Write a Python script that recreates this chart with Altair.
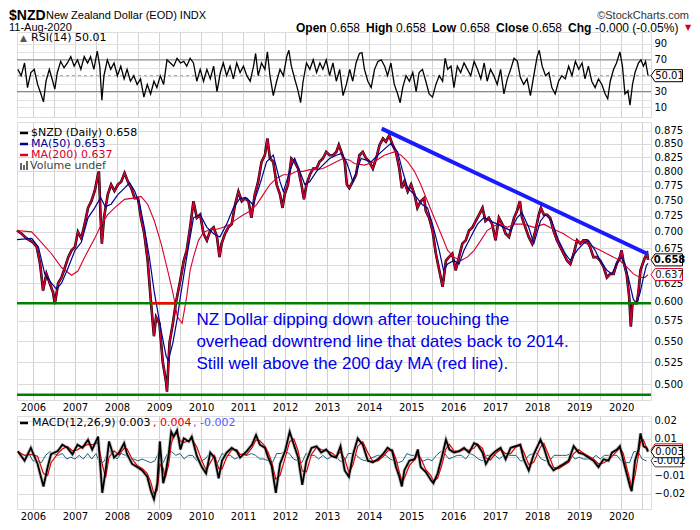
import altair as alt
import pandas as pd

FONT = "DejaVu Sans"
HFONT = "Liberation Sans"

# ---------------- data (decimal year, value) ----------------
price_points = [
    (2005.62, 0.702), (2005.73, 0.697), (2005.85, 0.690), (2006.00, 0.684), (2006.09, 0.677),
    (2006.17, 0.652), (2006.24, 0.615), (2006.32, 0.638), (2006.40, 0.625), (2006.48, 0.612),
    (2006.52, 0.597), (2006.60, 0.625), (2006.68, 0.633), (2006.76, 0.647), (2006.84, 0.662),
    (2006.92, 0.672), (2007.00, 0.677), (2007.07, 0.700), (2007.15, 0.690), (2007.23, 0.712),
    (2007.31, 0.738), (2007.39, 0.749), (2007.47, 0.766), (2007.55, 0.795), (2007.57, 0.800),
    (2007.61, 0.722), (2007.64, 0.682), (2007.69, 0.722), (2007.78, 0.760), (2007.86, 0.777),
    (2007.94, 0.766), (2008.02, 0.777), (2008.10, 0.782), (2008.18, 0.797), (2008.26, 0.782),
    (2008.34, 0.771), (2008.42, 0.754), (2008.50, 0.754), (2008.57, 0.722), (2008.65, 0.697),
    (2008.73, 0.657), (2008.81, 0.598), (2008.88, 0.556), (2008.93, 0.580), (2009.01, 0.572),
    (2009.09, 0.525), (2009.17, 0.502), (2009.19, 0.492), (2009.25, 0.548), (2009.33, 0.572),
    (2009.40, 0.598), (2009.51, 0.630), (2009.59, 0.657), (2009.66, 0.672), (2009.74, 0.707),
    (2009.82, 0.749), (2009.90, 0.722), (2009.98, 0.727), (2010.06, 0.697), (2010.14, 0.687),
    (2010.22, 0.702), (2010.30, 0.707), (2010.38, 0.692), (2010.44, 0.662), (2010.49, 0.682),
    (2010.57, 0.697), (2010.65, 0.707), (2010.73, 0.712), (2010.81, 0.743), (2010.89, 0.765),
    (2010.97, 0.749), (2011.05, 0.754), (2011.13, 0.749), (2011.20, 0.722), (2011.28, 0.760),
    (2011.36, 0.782), (2011.44, 0.817), (2011.52, 0.829), (2011.58, 0.860), (2011.64, 0.823),
    (2011.72, 0.817), (2011.80, 0.777), (2011.88, 0.760), (2011.94, 0.738), (2011.99, 0.760),
    (2012.07, 0.777), (2012.15, 0.823), (2012.23, 0.817), (2012.31, 0.805), (2012.39, 0.777),
    (2012.45, 0.752), (2012.51, 0.777), (2012.59, 0.794), (2012.67, 0.805), (2012.75, 0.805),
    (2012.82, 0.817), (2012.90, 0.823), (2012.98, 0.835), (2013.06, 0.829), (2013.14, 0.829),
    (2013.22, 0.835), (2013.28, 0.848), (2013.34, 0.835), (2013.42, 0.817), (2013.47, 0.777),
    (2013.53, 0.771), (2013.61, 0.782), (2013.69, 0.794), (2013.77, 0.829), (2013.85, 0.835),
    (2013.93, 0.823), (2014.01, 0.817), (2014.09, 0.805), (2014.17, 0.823), (2014.25, 0.848),
    (2014.33, 0.860), (2014.40, 0.854), (2014.48, 0.866), (2014.56, 0.848), (2014.64, 0.835),
    (2014.72, 0.805), (2014.78, 0.771), (2014.84, 0.782), (2014.92, 0.765), (2015.00, 0.777),
    (2015.08, 0.760), (2015.15, 0.738), (2015.23, 0.749), (2015.31, 0.754), (2015.35, 0.733),
    (2015.43, 0.722), (2015.51, 0.702), (2015.59, 0.667), (2015.67, 0.643), (2015.75, 0.620),
    (2015.83, 0.657), (2015.90, 0.662), (2015.98, 0.667), (2016.06, 0.643), (2016.14, 0.662),
    (2016.22, 0.682), (2016.30, 0.687), (2016.38, 0.702), (2016.46, 0.707), (2016.54, 0.717),
    (2016.62, 0.727), (2016.70, 0.738), (2016.77, 0.717), (2016.85, 0.722), (2016.93, 0.712),
    (2017.01, 0.687), (2017.09, 0.722), (2017.17, 0.712), (2017.25, 0.697), (2017.33, 0.692),
    (2017.45, 0.722), (2017.52, 0.733), (2017.59, 0.749), (2017.64, 0.722), (2017.72, 0.707),
    (2017.80, 0.692), (2017.88, 0.682), (2017.96, 0.702), (2018.04, 0.727), (2018.09, 0.738),
    (2018.16, 0.727), (2018.24, 0.727), (2018.31, 0.722), (2018.39, 0.702), (2018.47, 0.687),
    (2018.55, 0.677), (2018.63, 0.667), (2018.71, 0.657), (2018.79, 0.652), (2018.87, 0.667),
    (2018.95, 0.687), (2019.03, 0.682), (2019.10, 0.687), (2019.18, 0.687), (2019.26, 0.677),
    (2019.34, 0.662), (2019.42, 0.662), (2019.50, 0.657), (2019.58, 0.648), (2019.66, 0.633),
    (2019.74, 0.638), (2019.82, 0.638), (2019.89, 0.652), (2019.97, 0.662), (2020.01, 0.672),
    (2020.05, 0.657), (2020.13, 0.638), (2020.19, 0.607), (2020.23, 0.568), (2020.27, 0.598),
    (2020.33, 0.598), (2020.37, 0.598), (2020.41, 0.612), (2020.46, 0.643), (2020.51, 0.652),
    (2020.57, 0.662), (2020.62, 0.667), (2020.64, 0.658),
]

ma50_points = [
    (2005.62, 0.688), (2005.97, 0.690), (2006.13, 0.677), (2006.28, 0.638), (2006.44, 0.625),
    (2006.56, 0.617), (2006.68, 0.625), (2006.84, 0.647), (2007.00, 0.672), (2007.15, 0.684),
    (2007.31, 0.722), (2007.47, 0.738), (2007.61, 0.755), (2007.72, 0.740), (2007.86, 0.744),
    (2008.02, 0.760), (2008.18, 0.771), (2008.30, 0.780), (2008.42, 0.766), (2008.54, 0.744),
    (2008.65, 0.707), (2008.77, 0.662), (2008.89, 0.612), (2009.05, 0.563), (2009.17, 0.532),
    (2009.22, 0.527), (2009.33, 0.548), (2009.44, 0.580), (2009.51, 0.607), (2009.66, 0.662),
    (2009.82, 0.722), (2009.98, 0.727), (2010.14, 0.707), (2010.30, 0.697), (2010.45, 0.692),
    (2010.61, 0.712), (2010.77, 0.738), (2010.93, 0.754), (2011.09, 0.754), (2011.24, 0.743),
    (2011.40, 0.777), (2011.56, 0.817), (2011.72, 0.829), (2011.88, 0.782), (2011.96, 0.765),
    (2012.11, 0.800), (2012.23, 0.823), (2012.35, 0.800), (2012.47, 0.777), (2012.59, 0.782),
    (2012.75, 0.800), (2012.90, 0.811), (2013.06, 0.823), (2013.22, 0.829), (2013.34, 0.832),
    (2013.46, 0.817), (2013.54, 0.800), (2013.61, 0.782), (2013.81, 0.823), (2014.05, 0.817),
    (2014.29, 0.835), (2014.52, 0.851), (2014.68, 0.835), (2014.80, 0.800), (2014.92, 0.771),
    (2015.08, 0.760), (2015.27, 0.743), (2015.39, 0.738), (2015.51, 0.712), (2015.67, 0.672),
    (2015.77, 0.643), (2015.87, 0.652), (2016.02, 0.657), (2016.14, 0.652), (2016.26, 0.672),
    (2016.42, 0.692), (2016.58, 0.712), (2016.73, 0.722), (2016.89, 0.717), (2017.05, 0.712),
    (2017.21, 0.707), (2017.37, 0.702), (2017.52, 0.722), (2017.64, 0.730), (2017.80, 0.707),
    (2017.92, 0.682), (2018.08, 0.717), (2018.20, 0.727), (2018.35, 0.717), (2018.51, 0.687),
    (2018.67, 0.667), (2018.79, 0.657), (2018.95, 0.672), (2019.10, 0.682), (2019.22, 0.687),
    (2019.38, 0.672), (2019.50, 0.657), (2019.66, 0.643), (2019.78, 0.638), (2019.89, 0.652),
    (2020.01, 0.662), (2020.09, 0.652), (2020.17, 0.633), (2020.29, 0.603), (2020.37, 0.598),
    (2020.45, 0.612), (2020.53, 0.633), (2020.60, 0.650), (2020.64, 0.653),
]

ma200_points = [
    (2005.62, 0.702), (2005.97, 0.700), (2006.20, 0.684), (2006.44, 0.667), (2006.68, 0.647),
    (2006.92, 0.636), (2007.07, 0.642), (2007.23, 0.662), (2007.47, 0.690), (2007.63, 0.712),
    (2007.78, 0.727), (2007.94, 0.738), (2008.18, 0.752), (2008.38, 0.754), (2008.57, 0.757),
    (2008.73, 0.744), (2008.89, 0.717), (2009.05, 0.682), (2009.21, 0.642), (2009.33, 0.612),
    (2009.44, 0.580), (2009.55, 0.572), (2009.66, 0.607), (2009.74, 0.643), (2009.82, 0.662),
    (2009.94, 0.687), (2010.06, 0.699), (2010.22, 0.704), (2010.38, 0.704), (2010.53, 0.707),
    (2010.69, 0.712), (2010.85, 0.720), (2011.01, 0.727), (2011.17, 0.733), (2011.32, 0.743),
    (2011.48, 0.760), (2011.64, 0.777), (2011.80, 0.788), (2011.96, 0.794), (2012.11, 0.794),
    (2012.27, 0.800), (2012.43, 0.800), (2012.59, 0.803), (2012.75, 0.803), (2012.90, 0.805),
    (2013.06, 0.811), (2013.22, 0.817), (2013.38, 0.823), (2013.54, 0.820), (2013.65, 0.814),
    (2013.89, 0.811), (2014.13, 0.817), (2014.36, 0.829), (2014.60, 0.835), (2014.76, 0.829),
    (2014.92, 0.817), (2015.08, 0.800), (2015.23, 0.777), (2015.39, 0.749), (2015.55, 0.722),
    (2015.71, 0.697), (2015.87, 0.672), (2016.02, 0.662), (2016.18, 0.657), (2016.34, 0.662),
    (2016.50, 0.672), (2016.66, 0.687), (2016.81, 0.702), (2016.97, 0.709), (2017.13, 0.712),
    (2017.29, 0.707), (2017.45, 0.712), (2017.68, 0.712), (2017.92, 0.707), (2018.16, 0.712),
    (2018.39, 0.704), (2018.63, 0.697), (2018.87, 0.687), (2019.10, 0.684), (2019.34, 0.677),
    (2019.50, 0.672), (2019.66, 0.667), (2019.82, 0.662), (2019.97, 0.657), (2020.13, 0.648),
    (2020.29, 0.638), (2020.45, 0.633), (2020.57, 0.633), (2020.64, 0.637),
]

rsi_points = [
    (2005.64, 58), (2005.72, 50), (2005.80, 66), (2005.87, 35), (2005.95, 54), (2006.03, 58),
    (2006.11, 39), (2006.19, 27), (2006.25, 17), (2006.31, 43), (2006.39, 58), (2006.47, 43),
    (2006.52, 33), (2006.58, 54), (2006.66, 68), (2006.74, 60), (2006.82, 66), (2006.90, 74),
    (2006.98, 62), (2007.06, 70), (2007.14, 58), (2007.22, 74), (2007.30, 66), (2007.37, 74),
    (2007.45, 58), (2007.53, 81), (2007.59, 62), (2007.64, 19), (2007.69, 50), (2007.77, 70),
    (2007.85, 58), (2007.93, 66), (2008.01, 50), (2008.09, 62), (2008.17, 46), (2008.24, 58),
    (2008.32, 43), (2008.40, 50), (2008.48, 39), (2008.56, 46), (2008.64, 23), (2008.72, 39),
    (2008.80, 27), (2008.88, 43), (2008.95, 35), (2009.03, 50), (2009.11, 39), (2009.19, 70),
    (2009.27, 66), (2009.35, 62), (2009.43, 72), (2009.51, 66), (2009.59, 68), (2009.66, 62),
    (2009.74, 72), (2009.82, 66), (2009.90, 43), (2009.98, 58), (2010.06, 43), (2010.14, 58),
    (2010.22, 46), (2010.30, 62), (2010.38, 30), (2010.46, 54), (2010.53, 66), (2010.61, 50),
    (2010.69, 62), (2010.77, 46), (2010.85, 66), (2010.93, 54), (2011.01, 62), (2011.09, 50),
    (2011.17, 43), (2011.25, 62), (2011.30, 78), (2011.36, 50), (2011.44, 66), (2011.52, 58),
    (2011.58, 80), (2011.64, 50), (2011.72, 25), (2011.80, 43), (2011.88, 58), (2011.96, 50),
    (2012.04, 74), (2012.09, 82), (2012.15, 62), (2012.23, 46), (2012.31, 31), (2012.37, 16),
    (2012.43, 43), (2012.51, 66), (2012.59, 58), (2012.67, 70), (2012.75, 54), (2012.83, 66),
    (2012.90, 58), (2012.98, 70), (2013.06, 50), (2013.14, 66), (2013.22, 43), (2013.30, 58),
    (2013.38, 25), (2013.46, 39),
    (2013.54, 58), (2013.61, 43), (2013.69, 66), (2013.77, 78), (2013.83, 79), (2013.89, 58),
    (2013.97, 43), (2014.05, 35), (2014.13, 58), (2014.21, 68), (2014.29, 70), (2014.37, 62),
    (2014.44, 50), (2014.52, 66), (2014.60, 39), (2014.68, 27), (2014.74, 16), (2014.80, 35),
    (2014.88, 50), (2014.96, 43), (2015.04, 54), (2015.12, 30), (2015.19, 54), (2015.27, 58),
    (2015.35, 43), (2015.43, 27), (2015.51, 23), (2015.59, 39), (2015.67, 50), (2015.75, 43),
    (2015.81, 72), (2015.87, 58), (2015.95, 62), (2016.02, 35), (2016.10, 62), (2016.18, 54),
    (2016.26, 66), (2016.34, 58), (2016.42, 50), (2016.50, 68), (2016.58, 58), (2016.66, 46),
    (2016.74, 66), (2016.81, 43), (2016.89, 58), (2016.97, 50), (2017.05, 39), (2017.13, 58),
    (2017.21, 27), (2017.29, 46), (2017.37, 58), (2017.45, 72), (2017.53, 68), (2017.60, 48),
    (2017.68, 39), (2017.76, 46), (2017.84, 25), (2017.92, 50), (2018.00, 74), (2018.05, 82),
    (2018.12, 62), (2018.20, 50), (2018.28, 54), (2018.35, 35), (2018.43, 27), (2018.51, 43),
    (2018.59, 50), (2018.67, 46), (2018.75, 62), (2018.83, 50), (2018.91, 68), (2018.99, 58),
    (2019.07, 66), (2019.14, 46), (2019.22, 62), (2019.30, 43), (2019.38, 35), (2019.46, 46),
    (2019.54, 39), (2019.62, 27), (2019.68, 21), (2019.74, 43), (2019.82, 58), (2019.89, 66),
    (2019.97, 80), (2020.03, 62), (2020.09, 27), (2020.16, 31), (2020.21, 13), (2020.27, 39),
    (2020.33, 54), (2020.41, 66), (2020.47, 70), (2020.53, 62), (2020.58, 68), (2020.64, 50),
]

# (year, MACD, signal)
macd_points = [
    (2005.64, 0.0033, 0.0030), (2005.80, -0.0019, 0.0010), (2005.95, 0.0051, 0.0015),
    (2006.11, -0.0037, 0.0005), (2006.25, -0.0160, -0.0090), (2006.35, -0.0054, -0.0100),
    (2006.43, 0.0016, -0.0030), (2006.59, 0.0033, 0.0020), (2006.70, 0.0068, 0.0045),
    (2006.82, 0.0051, 0.0058), (2006.94, 0.0016, 0.0035), (2007.06, 0.0068, 0.0040),
    (2007.18, 0.0051, 0.0058), (2007.31, 0.0095, 0.0070), (2007.41, 0.0042, 0.0068),
    (2007.55, 0.0112, 0.0080), (2007.65, -0.0195, -0.0040), (2007.73, -0.0072, -0.0110),
    (2007.81, 0.0086, 0.0000), (2007.93, -0.0002, 0.0035), (2008.05, 0.0025, 0.0012),
    (2008.17, 0.0077, 0.0050), (2008.24, 0.0016, 0.0045), (2008.36, -0.0037, -0.0010),
    (2008.48, -0.0054, -0.0045), (2008.60, -0.0072, -0.0062), (2008.72, -0.0107, -0.0088),
    (2008.81, -0.0186, -0.0140), (2008.88, -0.0230, -0.0200), (2008.96, -0.0142, -0.0180),
    (2009.02, 0.0086, -0.0040), (2009.10, -0.0142, -0.0060), (2009.15, -0.0098, -0.0110),
    (2009.23, 0.0016, -0.0040), (2009.29, 0.0139, 0.0070), (2009.35, 0.0112, 0.0120),
    (2009.43, 0.0147, 0.0130), (2009.51, 0.0042, 0.0090), (2009.59, 0.0103, 0.0080),
    (2009.71, 0.0086, 0.0090), (2009.78, 0.0112, 0.0100), (2009.90, 0.0007, 0.0055),
    (2010.02, -0.0054, -0.0020), (2010.12, -0.0089, -0.0070), (2010.22, 0.0025, -0.0030),
    (2010.32, -0.0002, 0.0010), (2010.42, -0.0116, -0.0060), (2010.50, -0.0019, -0.0065),
    (2010.61, 0.0025, 0.0000), (2010.73, 0.0051, 0.0040), (2010.85, 0.0033, 0.0042),
    (2010.93, -0.0002, 0.0015), (2011.09, 0.0033, 0.0015), (2011.21, 0.0068, 0.0050),
    (2011.31, 0.0121, 0.0095), (2011.40, 0.0068, 0.0090), (2011.52, 0.0051, 0.0060),
    (2011.60, -0.0002, 0.0025), (2011.68, -0.0046, -0.0025), (2011.78, -0.0195, -0.0120),
    (2011.88, -0.0037, -0.0100), (2012.00, 0.0033, -0.0005), (2012.11, 0.0139, 0.0085),
    (2012.21, 0.0068, 0.0100), (2012.31, -0.0002, 0.0035), (2012.41, -0.0151, -0.0075),
    (2012.51, -0.0019, -0.0080), (2012.63, 0.0051, 0.0015), (2012.75, 0.0060, 0.0055),
    (2012.86, 0.0025, 0.0042), (2012.98, 0.0042, 0.0035), (2013.10, 0.0007, 0.0025),
    (2013.22, -0.0002, 0.0004), (2013.32, 0.0060, 0.0030), (2013.42, -0.0072, -0.0010),
    (2013.52, -0.0107, -0.0085), (2013.62, 0.0016, -0.0040), (2013.73, 0.0103, 0.0060),
    (2013.85, 0.0068, 0.0085), (2013.97, -0.0019, 0.0025), (2014.09, -0.0028, -0.0022),
    (2014.21, -0.0011, -0.0020), (2014.33, 0.0016, 0.0002), (2014.44, 0.0051, 0.0033),
    (2014.55, 0.0033, 0.0042), (2014.64, -0.0054, -0.0010), (2014.72, -0.0107, -0.0080),
    (2014.78, -0.0160, -0.0130), (2014.84, -0.0072, -0.0115), (2014.96, -0.0019, -0.0045),
    (2015.08, -0.0011, -0.0015), (2015.16, 0.0042, 0.0015), (2015.23, -0.0054, -0.0005),
    (2015.35, -0.0081, -0.0068), (2015.47, -0.0125, -0.0100), (2015.53, -0.0142, -0.0130),
    (2015.63, -0.0089, -0.0115), (2015.73, -0.0002, -0.0045), (2015.83, 0.0095, 0.0045),
    (2015.91, 0.0042, 0.0070), (2016.02, 0.0025, 0.0035), (2016.14, 0.0033, 0.0030),
    (2016.26, 0.0051, 0.0042), (2016.38, 0.0025, 0.0038), (2016.50, 0.0077, 0.0050),
    (2016.58, 0.0068, 0.0072), (2016.70, 0.0025, 0.0048), (2016.78, -0.0037, -0.0005),
    (2016.89, 0.0007, -0.0015), (2017.01, 0.0033, 0.0020), (2017.13, 0.0051, 0.0042),
    (2017.25, -0.0011, 0.0020), (2017.37, 0.0051, 0.0020), (2017.49, 0.0060, 0.0055),
    (2017.60, 0.0068, 0.0064), (2017.68, -0.0011, 0.0030), (2017.80, -0.0072, -0.0040),
    (2017.92, 0.0016, -0.0028), (2018.08, 0.0095, 0.0055), (2018.16, 0.0051, 0.0075),
    (2018.28, -0.0037, 0.0008), (2018.39, -0.0072, -0.0055), (2018.51, -0.0054, -0.0063),
    (2018.63, -0.0037, -0.0045), (2018.75, -0.0019, -0.0028), (2018.87, 0.0060, 0.0020),
    (2018.99, 0.0025, 0.0042), (2019.11, 0.0016, 0.0020), (2019.22, -0.0002, 0.0007),
    (2019.34, -0.0019, -0.0010), (2019.46, -0.0054, -0.0036), (2019.58, -0.0011, -0.0032),
    (2019.70, -0.0019, -0.0015), (2019.78, 0.0025, 0.0003), (2019.90, 0.0042, 0.0033),
    (2019.97, 0.0060, 0.0051), (2020.05, -0.0019, 0.0020), (2020.13, -0.0089, -0.0055),
    (2020.21, -0.0160, -0.0125), (2020.25, -0.0186, -0.0170), (2020.33, -0.0019, -0.0100),
    (2020.41, 0.0042, 0.0010), (2020.46, 0.0130, 0.0085), (2020.53, 0.0060, 0.0095),
    (2020.60, 0.0051, 0.0055), (2020.64, 0.0030, 0.0040),
]

# MACD histogram (x 0.001), sampled every 0.1 year from 2005.7
hist_start = 2005.7
hist_vals = [
    1, -1, 2, -2,
    -2, -3, 1, 3, 2,   1, 2, -1, 0, -1,   1, -1, 2, -1, 2,   -4, -2, 4, 1, -1,
    2, 1, -1, -1, -2,  -1, -2, -3, -2, 3,  -3, 2, 3, 1, 2,    -1, 1, 1, -2, -2,
    -1, 2, -1, -3, 2,  1, 1, -1, 0, 1,     1, 2, 1, -1, -1,   -2, -3, 2, 2, 3,
    2, -1, -2, -3, 2,  1, 1, -1, 1, -1,    0, 1, -2, -3, 2,   2, 1, -1, -2, -1,
    0, 1, 1, 1, -1,    -2, -3, -2, 2, 1,   1, -1, -2, -1, -2, 1, 3, 2, -1, 0,
    1, 1, -1, 2, 1,    -1, -2, 1, 1, 1,    -1, 1, 1, 1, 1,    -2, -2, 1, 2, 2,
    -1, -2, -2, 1, 1,  1, 1, 2, -1, 0,     -1, -1, -1, 1, -1, 1, 1, 1, 1, -2,
    -3, -3, 3, 3, -1,  -2,
]

price_ticks = [0.500, 0.525, 0.550, 0.575, 0.600, 0.625, 0.650, 0.675, 0.700,
               0.725, 0.750, 0.775, 0.800, 0.825, 0.850, 0.875]
support_levels = [0.598, 0.4885]
red_segment = [(2008.81, 2009.40, 0.598)]
trend_points = [(2014.30, 0.879), (2020.62, 0.667)]
note_lines = ["NZ Dollar dipping down after touching the",
              "overhead downtrend line that dates back to 2014.",
              "Still well above the 200 day MA (red line)."]
note_anchor = (2009.89, [0.576, 0.549, 0.523])

# ---------------- frames ----------------
price_df = pd.DataFrame(price_points, columns=["t", "v"])
ma50_df = pd.DataFrame(ma50_points, columns=["t", "v"])
ma200_df = pd.DataFrame(ma200_points, columns=["t", "v"])
rsi_df = pd.DataFrame(rsi_points, columns=["t", "v"])
macd_df = pd.DataFrame(macd_points, columns=["t", "v", "s"])
hist_df = pd.DataFrame({"t": [round(hist_start + 0.1 * i, 2) for i in range(len(hist_vals))],
                        "v": [h / 1000 for h in hist_vals]})
one = pd.DataFrame({"k": [0]})

# ---------------- layout ----------------
W = 634
H_RSI, H_MAIN, H_MACD = 85, 278, 93
X_DOM = [2005.62, 2020.71]
half_years = [2006 + 0.5 * i for i in range(30)]
xs = alt.Scale(domain=X_DOM, nice=False, zero=False)
GRID = "#d2d2d2"


def xaxis(labels):
    return alt.Axis(values=half_years, labels=labels,
                    labelExpr="datum.value % 1 === 0 ? format(datum.value, 'd') : ''",
                    grid=True, gridColor=GRID, ticks=False, domain=False,
                    labelFont=FONT, labelFontSize=10, labelColor="#000000",
                    labelPadding=2, labelOverlap=False, title=None)


def label(text, x, y, size=11, color="black", weight="normal", align="left", font=FONT):
    return alt.Chart(one).mark_text(text=text, align=align, baseline="middle", fontSize=size,
                                    color=color, fontWeight=weight, font=font).encode(
        x=alt.value(x), y=alt.value(y))


def dash(x1, x2, y, color, width=2.5):
    return alt.Chart(one).mark_rule(color=color, strokeWidth=width).encode(
        x=alt.value(x1), x2=alt.value(x2), y=alt.value(y))


BOX = "M-1.25,0L-0.96,-0.43L1,-0.43L1,0.43L-0.96,0.43Z"


def value_box(val, txt, yscale, yaxis, stroke, tcolor="black", bold=False):
    d = pd.DataFrame({"v": [val], "txt": [txt]})
    p = alt.Chart(d).mark_point(shape=BOX, size=784, filled=True, fill="white", stroke=stroke,
                                strokeWidth=1, opacity=1).encode(
        x=alt.value(W + 17.5), y=alt.Y("v:Q", scale=yscale, axis=yaxis))
    t = alt.Chart(d).mark_text(font=FONT, fontSize=10, color=tcolor,
                               fontWeight="bold" if bold else "normal").encode(
        x=alt.value(W + 18.5), y=alt.Y("v:Q", scale=yscale, axis=yaxis), text="txt:N")
    return [p, t]


# ---------------- RSI panel ----------------
ys_rsi = alt.Scale(domain=[-2, 105], nice=False, zero=False)
rsi_axis = alt.Axis(values=[10, 20, 30, 40, 50, 60, 70, 80, 90],
                    labelExpr="datum.value % 20 === 10 && datum.value !== 50 ? datum.value : ''",
                    orient="right", grid=True, gridColor="#e2e2e2", ticks=False, domain=False,
                    labelFont=FONT, labelFontSize=10, labelPadding=3, labelOverlap=False, title=None)

rsi_line = alt.Chart(rsi_df).mark_line(color="black", strokeWidth=1.3).encode(
    x=alt.X("t:Q", scale=xs, axis=xaxis(False)),
    y=alt.Y("v:Q", scale=ys_rsi, axis=rsi_axis))
rsi_rules = alt.Chart(pd.DataFrame({"lvl": [30, 70]})).mark_rule(color="#808080").encode(
    y=alt.Y("lvl:Q", scale=ys_rsi, axis=rsi_axis))
rsi_mid = alt.Chart(pd.DataFrame({"lvl": [50]})).mark_rule(color="#9a9a9a", strokeDash=[3, 3]).encode(
    y=alt.Y("lvl:Q", scale=ys_rsi, axis=rsi_axis))

# header: two rows above the RSI panel (positions relative to panel origin)
hdr_y1, hdr_y2 = -16, -4
HS = 12
header = [
    label("$NZD", -8, hdr_y1, size=14, weight="bold", font=HFONT),
    label("New Zealand Dollar (EOD)  INDX", 29, hdr_y1, size=11, font=HFONT),
    label("\u00a9StockCharts.com", W + 38, hdr_y1, size=11, align="right", color="#333333", font=HFONT),
    label("11-Aug-2020", -8, hdr_y2, size=11, font=HFONT),
    label("Open", 279, hdr_y2, size=HS, weight="bold", font=HFONT),
    label("0.658", 313, hdr_y2, size=HS, font=HFONT),
    label("High", 349, hdr_y2, size=HS, weight="bold", font=HFONT),
    label("0.658", 379, hdr_y2, size=HS, font=HFONT),
    label("Low", 415, hdr_y2, size=HS, weight="bold", font=HFONT),
    label("0.658", 443, hdr_y2, size=HS, font=HFONT),
    label("Close", 479, hdr_y2, size=HS, weight="bold", font=HFONT),
    label("0.658", 515, hdr_y2, size=HS, font=HFONT),
    label("Chg", 551, hdr_y2, size=HS, weight="bold", font=HFONT),
    label("-0.000 (-0.05%)", 578, hdr_y2, size=HS, font=HFONT),
    label("\u25bc", W + 34, hdr_y2, size=8, color="#cc0022", font=FONT),
]

rsi_chart = alt.layer(
    rsi_rules, rsi_mid, rsi_line,
    label("\u25b2", 3, 6, size=9, color="#555555"),
    label("RSI(14) 50.01", 14, 6),
    *value_box(50.01, "50.01", ys_rsi, rsi_axis, "black"),
    *header,
).properties(width=W, height=H_RSI)

# ---------------- price panel ----------------
ys_main = alt.Scale(type="log", domain=[0.483, 0.892], nice=False, zero=False)
main_axis = alt.Axis(values=price_ticks,
                     labelExpr="abs(datum.value - 0.65) < 0.001 ? '' : format(datum.value, '.3f')",
                     orient="right", grid=True, gridColor="#dadada",
                     ticks=False, domain=False, labelFont=FONT, labelFontSize=10, labelPadding=3,
                     labelOverlap=False, title=None)


def xm(field="t"):
    return alt.X(f"{field}:Q", scale=xs, axis=xaxis(True))


def ym(field="v"):
    return alt.Y(f"{field}:Q", scale=ys_main, axis=main_axis)


price_black = alt.Chart(price_df).mark_line(color="black", strokeWidth=2.6).encode(x=xm(), y=ym())
price_red = alt.Chart(price_df).mark_line(color="#cc0033", strokeWidth=1.6).encode(x=xm(), y=ym())
ma200_line = alt.Chart(ma200_df).mark_line(color="#d8002e", strokeWidth=1.1).encode(x=xm(), y=ym())
ma50_line = alt.Chart(ma50_df).mark_line(color="#000090", strokeWidth=1.2).encode(x=xm(), y=ym())
green = alt.Chart(pd.DataFrame({"lvl": support_levels})).mark_rule(color="#008000", strokeWidth=2.5).encode(
    y=ym("lvl"), x=alt.value(0), x2=alt.value(W))
redseg = alt.Chart(pd.DataFrame(red_segment, columns=["t0", "t1", "lvl"])).mark_rule(
    color="#ff0000", strokeWidth=2.5).encode(x=xm("t0"), x2="t1:Q", y=ym("lvl"))
trend = alt.Chart(pd.DataFrame(trend_points, columns=["t", "v"])).mark_line(
    color="#1a1aff", strokeWidth=4).encode(x=xm(), y=ym())
note_df = pd.DataFrame({"t": [note_anchor[0]] * 3, "v": note_anchor[1], "txt": note_lines})
note = alt.Chart(note_df).mark_text(align="left", baseline="middle", font="Liberation Sans",
                                    fontSize=17, color="#0000e6").encode(x=xm(), y=ym(), text="txt:N")

legend_main = [
    dash(3, 11, 11, "black"), label("$NZD (Daily) 0.658", 14, 11),
    dash(3, 11, 22, "#000090"), label("MA(50) 0.653", 14, 22, color="#000090"),
    dash(3, 11, 33, "#d8002e"), label("MA(200) 0.637", 14, 33, color="#d8002e"),
    alt.Chart(one).mark_rule(color="#666666", strokeWidth=2).encode(x=alt.value(4), y=alt.value(41), y2=alt.value(48)),
    alt.Chart(one).mark_rule(color="#666666", strokeWidth=2).encode(x=alt.value(7), y=alt.value(43), y2=alt.value(48)),
    alt.Chart(one).mark_rule(color="#666666", strokeWidth=2).encode(x=alt.value(10), y=alt.value(39), y2=alt.value(48)),
    label("Volume undef", 13, 44, color="#444444"),
]

main_chart = alt.layer(
    price_black, price_red, ma200_line, ma50_line, green, redseg, trend, note,
    *legend_main,
    *value_box(0.637, "0.637", ys_main, main_axis, "#d8002e", tcolor="#222222"),
    *value_box(0.658, "0.658", ys_main, main_axis, "black", bold=True),
).properties(width=W, height=H_MAIN)

# ---------------- MACD panel ----------------
ys_macd = alt.Scale(domain=[-0.0283, 0.0225], nice=False, zero=False)
macd_axis = alt.Axis(values=[-0.02, -0.01, 0, 0.01, 0.02],
                     labelExpr="datum.value === 0 ? '' : format(datum.value, '.2f')",
                     orient="right", grid=True, gridColor="#dadada", ticks=False, domain=False,
                     labelFont=FONT, labelFontSize=10, labelPadding=3, labelOverlap=False, title=None)


def yq(field):
    return alt.Y(f"{field}:Q", scale=ys_macd, axis=macd_axis)


hist_line = alt.Chart(hist_df).mark_line(color="#1f5f80", strokeWidth=1).encode(x=xm(), y=yq("v"))
macd_shadow = alt.Chart(macd_df).mark_line(color="#c4c4c4", strokeWidth=3.5).encode(x=xm(), y=yq("v"))
sig_line = alt.Chart(macd_df).mark_line(color="#e00000", strokeWidth=1.2).encode(x=xm(), y=yq("s"))
macd_line = alt.Chart(macd_df).mark_line(color="black", strokeWidth=1.8).encode(x=xm(), y=yq("v"))

macd_chart = alt.layer(
    hist_line, macd_shadow, sig_line, macd_line,
    dash(3, 11, 7, "black"),
    label("MACD(12,26,9) 0.003", 15, 7),
    label(", 0.004", 136, 7, color="#e00000"),
    label(", -0.002", 176, 7, color="#5a5aff"),
    *value_box(0.004, "0.004", ys_macd, macd_axis, "#e00000", tcolor="#e00000"),
    *value_box(-0.002, "-0.002", ys_macd, macd_axis, "#404040"),
    *value_box(0.003, "0.003", ys_macd, macd_axis, "black"),
).properties(width=W, height=H_MACD)

chart = alt.vconcat(rsi_chart, main_chart, macd_chart, spacing=2).properties(
    padding={"left": 0, "top": 0, "right": 0, "bottom": 0}
).configure_view(stroke="#9a9a9a", strokeWidth=1).configure(background="white")

chart.save("out.html", embed_options={"renderer": "svg", "actions": False})
